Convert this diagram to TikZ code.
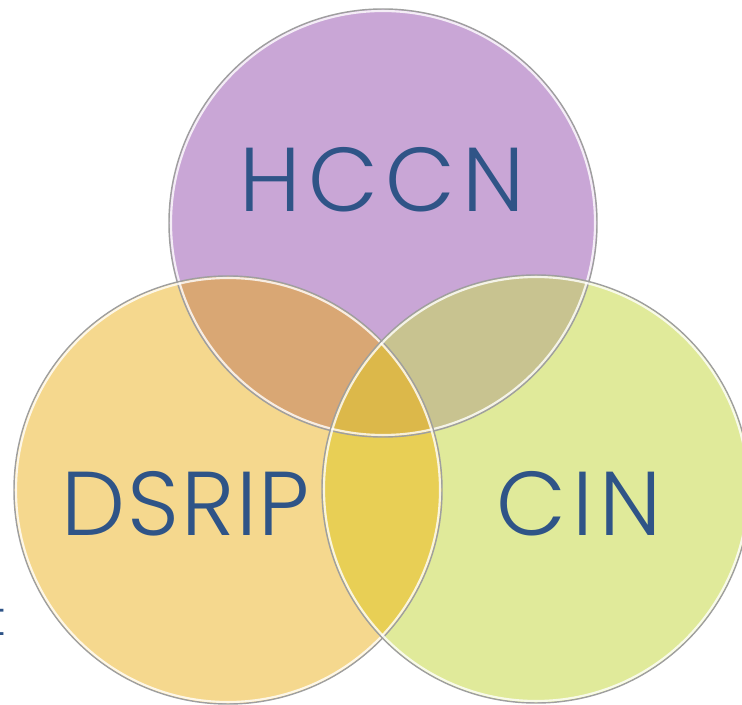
\documentclass[tikz,border=0pt]{standalone}
\usepackage{fontspec}
\setmainfont{Poppins}[UprightFont=* Light]
\definecolor{hccnfill}{HTML}{C9A6D6}
\definecolor{dsripfill}{HTML}{F5D88E}
\definecolor{cinfill}{HTML}{E0EA9A}
\definecolor{hdfill}{HTML}{D9A774}
\definecolor{hcfill}{HTML}{C8C390}
\definecolor{dcfill}{HTML}{E8CF55}
\definecolor{hdcfill}{HTML}{DCB84A}
\definecolor{txtblue}{HTML}{2F5487}
\begin{document}
\begin{tikzpicture}[x=0.75pt,y=0.75pt, line join=round, line cap=round,
  rim/.style={draw=gray!75, line width=1.1pt},
  gloss/.style={draw=white, opacity=0.8, line width=1.6pt},
  vtext/.style={text=txtblue, font=\fontsize{68}{70}\selectfont, inner sep=0pt}]
\useasboundingbox (0,0) rectangle (742,704);
\def\r{214} % radius
\coordinate (H) at (383,481);
\coordinate (D) at (228,214);
\coordinate (C) at (536,215);
% circles
\fill[hccnfill] (H) circle (\r);
\fill[dsripfill] (D) circle (\r);
\fill[cinfill] (C) circle (\r);
% overlaps
\begin{scope}
  \clip (H) circle (\r);
  \fill[hdfill] (D) circle (\r);
  \fill[hcfill] (C) circle (\r);
\end{scope}
\begin{scope}
  \clip (D) circle (\r);
  \fill[dcfill] (C) circle (\r);
  \clip (C) circle (\r);
  \fill[hdcfill] (H) circle (\r);
\end{scope}
% rims
\foreach \p in {H,D,C}{
  \draw[rim] (\p) circle (\r);
  \draw[gloss] (\p) circle (\r-2);
}
\node[vtext] (hccn) at (382,524) {\addfontfeature{LetterSpace=8}HCCN};
\node[vtext] (dsrip) at (186,200) {\addfontfeature{LetterSpace=2}DSRIP};
\node[vtext] (cin) at (579,200) {\addfontfeature{LetterSpace=7}CIN};
\node[text=txtblue, font=\fontsize{36}{40}\selectfont, inner sep=0pt, anchor=base east] (cut) at (6,69) {t};
\end{tikzpicture}
\end{document}
